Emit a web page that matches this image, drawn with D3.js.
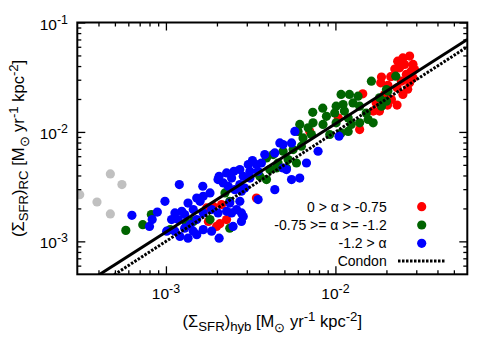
<!DOCTYPE html>
<html><head><meta charset="utf-8">
<script src="https://cdn.jsdelivr.net/npm/d3@7"></script>
<style>body{margin:0;background:#fff}svg{display:block}text{font-family:"Liberation Sans",Arial,sans-serif;fill:#000}</style>
</head><body>
<svg id="c" width="500" height="350"></svg>
<script>
// ---- data ----
const greyX = [4.7e-4, 5.5e-4, 3.1e-4, 3.92e-4, 4.7e-4];
const greyY = [4.13e-3, 3.3e-3, 2.67e-3, 2.29e-3, 1.78e-3];

const redX = [1.9e-3,2.13e-3,1.74e-3,2.28e-3,2.08e-3,1.99e-3,1.78e-3,3.42e-3,7.06e-3,1.45e-2,1.04e-2,1.39e-2,1.67e-2,1.74e-2,1.87e-2,2.12e-2,2.24e-2,1.85e-2,2.04e-2,2.31e-2,1.95e-2,2.14e-2,2.03e-2,2.31e-2,1.82e-2,2.39e-2,2.74e-2,2.5e-2,2.56e-2,2.87e-2,2.8e-2,2.62e-2,2.87e-2,2.74e-2,2.45e-2,2.5e-2,2.93e-2,2.33e-2,2.67e-2];
const redY = [2.09e-3,2.17e-3,2.02e-3,1.58e-3,1.45e-3,1.37e-3,1.52e-3,2.49e-3,1.01e-2,2.23e-2,1.34e-2,1.05e-2,1.55e-2,1.84e-2,3.17e-2,3.2e-2,3.75e-2,2.81e-2,2.67e-2,2.53e-2,2.2e-2,1.98e-2,1.76e-2,1.76e-2,1.55e-2,3.85e-2,4.93e-2,4.75e-2,4.14e-2,4.14e-2,3.59e-2,3.35e-2,3.12e-2,2.81e-2,2.91e-2,2.2e-2,3.72e-2,4.43e-2,2.46e-2];

const greenX = [5.8e-4,7.3e-4,8.2e-4,2.23e-3,2.38e-3,2.38e-3,1.82e-3,1.32e-3,1.06e-3,1.45e-3,6.16e-3,6.02e-3,6.9e-3,6.44e-3,6.3e-3,5.63e-3,4.91e-3,4.29e-3,3.92e-3,4.59e-3,5.26e-3,5.89e-3,4.1e-3,4.49e-3,3.92e-3,3.58e-3,5.14e-3,7.35e-3,8.42e-3,1.01e-2,9.9e-3,8.85e-3,7.38e-3,8.45e-3,1.01e-2,9.26e-3,7.22e-3,1.63e-2,1.08e-2,1.21e-2,1.36e-2,1.27e-2,1.11e-2,1.13e-2,1.19e-2,1.39e-2,1.52e-2,1.56e-2,1.67e-2,1.39e-2,1.24e-2,1.19e-2,1.08e-2,1.82e-2,2.0e-2,2.27e-2,2.04e-2,2.0e-2,1.87e-2];
const greenY = [1.26e-3,1.42e-3,1.76e-3,2.77e-3,2.32e-3,1.32e-3,1.58e-3,1.47e-3,1.28e-3,1.52e-3,1.17e-2,1.01e-2,1.09e-2,8.81e-3,7.4e-3,6.9e-3,6.66e-3,6.21e-3,5.78e-3,5.2e-3,5.59e-3,5.2e-3,4.53e-3,4.68e-3,3.67e-3,3.93e-3,4.68e-3,1.51e-2,1.65e-2,1.72e-2,1.49e-2,1.39e-2,1.21e-2,1.17e-2,1.21e-2,9.47e-3,9.47e-3,2.91e-2,2.2e-2,2.2e-2,2.12e-2,1.84e-2,1.78e-2,1.55e-2,1.34e-2,1.72e-2,1.49e-2,1.3e-2,1.21e-2,1.21e-2,1.17e-2,1.01e-2,9.79e-3,2.05e-2,2.44e-2,3.23e-2,2.36e-2,1.91e-2,1.72e-2];

const blueX = [6.3e-4,8.9e-4,8.3e-4,8.0e-4,3.24e-3,3.06e-3,2.73e-3,2.52e-3,2.28e-3,2.06e-3,2.03e-3,2.18e-3,2.44e-3,2.86e-3,3.13e-3,3.42e-3,2.73e-3,2.55e-3,2.33e-3,1.65e-3,1.2e-3,1.82e-3,1.66e-3,1.52e-3,1.59e-3,1.35e-3,9.87e-4,1.45e-3,1.24e-3,1.13e-3,1.08e-3,1.18e-3,1.29e-3,2.38e-3,2.73e-3,2.61e-3,2.79e-3,2.44e-3,2.28e-3,2.03e-3,1.86e-3,1.66e-3,1.52e-3,1.39e-3,1.45e-3,1.66e-3,1.86e-3,1.52e-3,1.35e-3,1.21e-3,1.13e-3,1.29e-3,1.01e-3,2.06e-3,2.49e-3,2.79e-3,3.5e-3,2.86e-3,5.76e-3,5.51e-3,4.91e-3,4.7e-3,4.39e-3,3.83e-3,3.66e-3,3.13e-3,2.92e-3,2.79e-3,7.9e-3,6.75e-3,4.91e-3,5.14e-3,5.51e-3,6.16e-3,4.39e-3,1.05e-2,3.5e-3];
const blueY = [1.73e-3,1.85e-3,1.58e-3,1.37e-3,5.48e-3,5.03e-3,4.53e-3,4.37e-3,4.22e-3,3.93e-3,3.67e-3,3.42e-3,3.79e-3,3.93e-3,4.37e-3,5.03e-3,3.3e-3,2.97e-3,3.19e-3,3.19e-3,3.3e-3,2.77e-3,2.58e-3,2.49e-3,2.32e-3,2.24e-3,2.32e-3,1.95e-3,1.88e-3,1.82e-3,1.58e-3,1.58e-3,1.76e-3,2.24e-3,2.32e-3,1.95e-3,1.82e-3,1.82e-3,1.88e-3,1.82e-3,1.95e-3,1.82e-3,1.58e-3,1.42e-3,1.24e-3,1.28e-3,1.24e-3,1.15e-3,1.07e-3,1.11e-3,1.24e-3,1.32e-3,1.24e-3,1.07e-3,1.37e-3,1.52e-3,2.41e-3,1.69e-3,1.01e-2,7.93e-3,7.67e-3,7.93e-3,6.43e-3,6.21e-3,5.2e-3,3.79e-3,3.07e-3,2.87e-3,6.66e-3,5.2e-3,4.68e-3,4.53e-3,3.67e-3,3.79e-3,2.97e-3,9.14e-3,4.37e-3];

// power-law lines  y = a * x^b
const fitLine = [1.135, 0.99];
const condonLine = [1.0, 1.0];

const xMajor = [1e-3, 1e-2];
const yMajor = [1e-3, 1e-2, 1e-1];
const legendLabels = ["0 > \u03b1 > -0.75", "-0.75 >= \u03b1 >= -1.2", "-1.2 > \u03b1", "Condon"];
const colors = {grey:"#c0c0c0", red:"#ff0000", green:"#006400", blue:"#0000ff"};

// ---- layout ----
const L = 77.3, R = 467.3, T = 22.5, B = 274.3;
const svg = d3.select("#c");
const x = d3.scaleLog().domain([3e-4, 6e-2]).range([L, R]);
const y = d3.scaleLog().domain([5e-4, 0.1]).range([B, T]);
const RAD = 4.6;

function minorTicks(dom){
  const out=[];
  for(let e=-5;e<=0;e++) for(let k=2;k<=9;k++){const v=k*Math.pow(10,e); if(v>dom[0]*1.0001 && v<dom[1]*0.9999) out.push(v);}
  return out;
}
svg.append("clipPath").attr("id","clip").append("rect").attr("x",L).attr("y",T).attr("width",R-L).attr("height",B-T);

const plot = svg.append("g").attr("clip-path","url(#clip)");
function dots(X,Y,col){
  plot.append("g").selectAll("circle").data(X.map((v,i)=>[v,Y[i]])).join("circle")
    .attr("cx",d=>x(d[0])).attr("cy",d=>y(d[1])).attr("r",RAD).attr("fill",col);
}
dots(greyX,greyY,colors.grey);
dots(redX,redY,colors.red);
dots(greenX,greenY,colors.green);
dots(blueX,blueY,colors.blue);

const xd = x.domain();
function lineData(p){ return [xd[0], xd[1]].map(v=>[v, p[0]*Math.pow(v,p[1])]); }
const lg = d3.line().x(d=>x(d[0])).y(d=>y(d[1]));
plot.append("path").attr("d",lg(lineData(fitLine))).attr("stroke","#000").attr("stroke-width",3).attr("fill","none");
plot.append("path").attr("d",lg(lineData(condonLine))).attr("stroke","#000").attr("stroke-width",3).attr("stroke-dasharray","2.5,1.5").attr("fill","none");

// ---- axes ----
function axisG(axis, tx, ty){
  const g = svg.append("g").attr("transform",`translate(${tx},${ty})`).call(axis);
  g.select(".domain").remove();
  g.selectAll("line").attr("stroke","#000").attr("stroke-width",1.3);
  g.selectAll("text").remove();
  return g;
}
const xMin = minorTicks(x.domain()), yMin = minorTicks(y.domain());
axisG(d3.axisBottom(x).tickValues(xMajor).tickSize(-8),0,B);
axisG(d3.axisBottom(x).tickValues(xMin).tickSize(-4),0,B);
axisG(d3.axisTop(x).tickValues(xMajor).tickSize(-8),0,T);
axisG(d3.axisTop(x).tickValues(xMin).tickSize(-4),0,T);
axisG(d3.axisLeft(y).tickValues(yMajor).tickSize(-8),L,0);
axisG(d3.axisLeft(y).tickValues(yMin).tickSize(-4),L,0);
axisG(d3.axisRight(y).tickValues(yMajor).tickSize(-8),R,0);
axisG(d3.axisRight(y).tickValues(yMin).tickSize(-4),R,0);
svg.append("rect").attr("x",L).attr("y",T).attr("width",R-L).attr("height",B-T).attr("fill","none").attr("stroke","#000").attr("stroke-width",2);

const FS = 15.5;
function powLabel(t, v){
  const e = Math.round(Math.log10(v));
  t.append("tspan").text("10");
  t.append("tspan").attr("dy",-6).attr("font-size",FS*0.8).text(String(e));
}
xMajor.forEach(v=>{
  const t = svg.append("text").attr("x",x(v)).attr("y",299).attr("text-anchor","middle").attr("font-size",FS);
  powLabel(t,v);
});
yMajor.forEach(v=>{
  const t = svg.append("text").attr("x",68).attr("y",y(v)+7).attr("text-anchor","end").attr("font-size",FS);
  powLabel(t,v);
});

// axis titles
const AF = 16.5;
function title(t, sub){
  const s = AF*0.8;
  t.append("tspan").text("(\u03a3");
  t.append("tspan").attr("dy",4).attr("font-size",s).text("SFR");
  t.append("tspan").attr("dy",-4).text(")");
  t.append("tspan").attr("dy",4).attr("font-size",s).text(sub);
  t.append("tspan").attr("dy",-4).text(" [M");
  t.append("tspan").attr("dy",5).attr("font-size",s).text("\u2299");
  t.append("tspan").attr("dy",-5).text(" yr");
  t.append("tspan").attr("dy",-6).attr("font-size",s).text("-1");
  t.append("tspan").attr("dy",6).text(" kpc");
  t.append("tspan").attr("dy",-6).attr("font-size",s).text("-2");
  t.append("tspan").attr("dy",6).text("]");
}
title(svg.append("text").attr("x",(L+R)/2).attr("y",327).attr("text-anchor","middle").attr("font-size",AF),"hyb");
title(svg.append("text").attr("transform",`translate(24,${(T+B)/2}) rotate(-90)`).attr("text-anchor","middle").attr("font-size",AF),"RC");

// ---- legend ----
const legY = [206.7, 225, 243.3, 261];
const legCol = [colors.red, colors.green, colors.blue];
legendLabels.forEach((s,i)=>{
  svg.append("text").attr("x",386.7).attr("y",legY[i]+5).attr("text-anchor","end").attr("font-size",14).text(s);
  if(i<3) svg.append("circle").attr("cx",421.7).attr("cy",legY[i]).attr("r",RAD).attr("fill",legCol[i]);
  else svg.append("line").attr("x1",398).attr("x2",446).attr("y1",legY[i]).attr("y2",legY[i]).attr("stroke","#000").attr("stroke-width",3).attr("stroke-dasharray","2.5,1.5");
});
</script>
</body></html>
